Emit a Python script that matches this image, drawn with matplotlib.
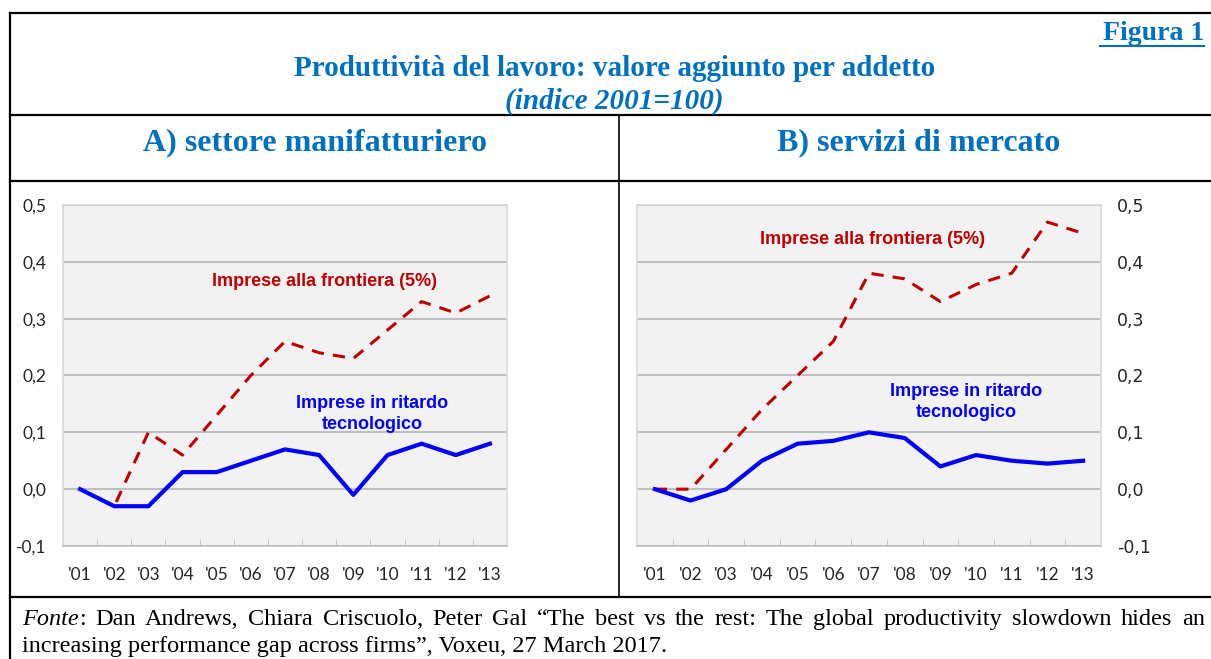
import matplotlib
matplotlib.use("Agg")
import matplotlib.pyplot as plt
from matplotlib.lines import Line2D
from matplotlib.ticker import FuncFormatter
import numpy as np

# dati (indice 2001=100, variazione)
anni = ["'01", "'02", "'03", "'04", "'05", "'06", "'07", "'08", "'09", "'10", "'11", "'12", "'13"]

manif_frontiera = [0.0, -0.03, 0.10, 0.06, 0.13, 0.20, 0.26, 0.24, 0.23, 0.28, 0.33, 0.31, 0.34]
manif_ritardo = [0.0, -0.03, -0.03, 0.03, 0.03, 0.05, 0.07, 0.06, -0.01, 0.06, 0.08, 0.06, 0.08]

serv_frontiera = [0.0, 0.0, 0.07, 0.14, 0.20, 0.26, 0.38, 0.37, 0.33, 0.36, 0.38, 0.47, 0.45]
serv_ritardo = [0.0, -0.02, 0.0, 0.05, 0.08, 0.085, 0.10, 0.09, 0.04, 0.06, 0.05, 0.045, 0.05]

yticks = [-0.1, 0.0, 0.1, 0.2, 0.3, 0.4, 0.5]

fonte_riga1 = ("Dan Andrews, Chiara Criscuolo, Peter Gal \u201cThe best vs the rest: "
               "The global productivity slowdown hides an")
fonte_riga2 = "increasing performance gap across firms\u201d, Voxeu, 27 March 2017."

W, H = 1211, 659
BLU_TITOLO = "#0070C0"
ROSSO = "#C00000"
BLU = "#0000FF"

fig = plt.figure(figsize=(W / 100, H / 100), dpi=100)
renderer = fig.canvas.get_renderer()


def px(x0, y0, x1, y1):
    # rettangolo in pixel (dall'alto) -> coordinate figura
    return [x0 / W, 1 - y1 / H, (x1 - x0) / W, (y1 - y0) / H]


def linea(x0, y0, x1, y1, lw=1.6, color="black"):
    fig.add_artist(Line2D([x0 / W, x1 / W], [1 - y0 / H, 1 - y1 / H],
                          color=color, lw=lw, transform=fig.transFigure))


# cornici della tabella
linea(10, 13, W, 13)
linea(10, 13, 10, H)
linea(10, 115, W, 115)
linea(10, 181, W, 181)
linea(10, 597, W, 597)
linea(619, 115, 619, 597, lw=1.2)

# titoli
serif = ["Liberation Serif", "DejaVu Serif"]
fig.text(1204 / W, 1 - 34 / H, "Figura 1", ha="right", va="center", family=serif,
         fontsize=20, fontweight="bold", color=BLU_TITOLO)
linea(1100, 46, 1204, 46, lw=1.5, color=BLU_TITOLO)
fig.text(615 / W, 1 - 69 / H, "Produttività del lavoro: valore aggiunto per addetto",
         ha="center", va="center", family=serif, fontsize=21, fontweight="bold", color=BLU_TITOLO)
fig.text(614 / W, 1 - 101 / H, "(indice 2001=100)", ha="center", va="center", family=serif,
         fontsize=21, fontweight="bold", style="italic", color=BLU_TITOLO)
fig.text(315 / W, 1 - 143 / H, "A) settore manifatturiero", ha="center", va="center",
         family=serif, fontsize=23, fontweight="bold", color=BLU_TITOLO)
fig.text(919 / W, 1 - 143 / H, "B) servizi di mercato", ha="center", va="center",
         family=serif, fontsize=23, fontweight="bold", color=BLU_TITOLO)

# fonte: prima riga giustificata tra x=22 e x=1205
fs_fonte = 17.5
y1 = 1 - 625 / H
y2 = 1 - 652 / H
t = fig.text(22 / W, y1, "Fonte", ha="left", va="baseline", family=serif,
             fontsize=fs_fonte, style="italic")
x_cur = t.get_window_extent(renderer).x1
t = fig.text(x_cur / W, y1, ":", ha="left", va="baseline", family=serif, fontsize=fs_fonte)
x_cur = t.get_window_extent(renderer).x1

testi = [fig.text(0, y1, p, ha="left", va="baseline", family=serif, fontsize=fs_fonte)
         for p in fonte_riga1.split(" ")]
larg = [tt.get_window_extent(renderer).width for tt in testi]
spazio = (1205 - x_cur - sum(larg)) / len(larg)
for tt, w in zip(testi, larg):
    x_cur += spazio
    tt.set_x(x_cur / W)
    x_cur += w
fig.text(22 / W, y2, fonte_riga2, ha="left", va="baseline", family=serif, fontsize=fs_fonte)

fmt = FuncFormatter(lambda v, p: f"{v:.1f}".replace(".", ","))
x = np.arange(len(anni))


def pannello(rect, frontiera, ritardo, destra):
    ax = fig.add_axes(rect)
    ax.set_facecolor("#F2F2F2")
    ax.set_xlim(-0.5, len(anni) - 0.5)
    ax.set_ylim(-0.1, 0.5)
    ax.set_yticks(yticks)
    ax.yaxis.set_major_formatter(fmt)
    ax.grid(axis="y", color="#BFBFBF", lw=1.5)
    ax.set_axisbelow(True)
    for s in ax.spines.values():
        s.set_color("#D9D9D9")
        s.set_linewidth(1.2)
    ax.spines["bottom"].set_color("#BFBFBF")
    ax.set_xticks(x)
    ax.set_xticklabels(anni)
    ax.set_xticks(np.arange(0.5, len(anni) - 1, 1), minor=True)
    ax.tick_params(axis="x", which="major", length=0, pad=15, labelsize=12.5, labelcolor="#262626")
    ax.tick_params(axis="x", which="minor", length=5, direction="in", color="#BFBFBF")
    ax.tick_params(axis="y", length=0, labelsize=12.5, labelcolor="#262626", pad=12)
    for lab in ax.get_xticklabels() + ax.get_yticklabels():
        lab.set_family(["Lato", "DejaVu Sans"])
    if destra:
        ax.yaxis.tick_right()
        ax.tick_params(axis="y", length=0, pad=11.5)
    ax.plot(x, frontiera, color=ROSSO, lw=2.2, ls=(0, (4, 3)), zorder=3)
    ax.plot(x, ritardo, color=BLU, lw=3, zorder=4)
    return ax


axA = pannello(px(63, 205, 507, 546), manif_frontiera, manif_ritardo, False)
axB = pannello(px(637, 205, 1101, 546), serv_frontiera, serv_ritardo, True)

sans = ["Liberation Sans", "DejaVu Sans"]
kw = dict(ha="center", va="center", family=sans, fontsize=13, fontweight="bold")
fig.text(325 / W, 1 - 282 / H, "Imprese alla frontiera (5%)", color=ROSSO, **kw)
fig.text(372 / W, 1 - 414 / H, "Imprese in ritardo\ntecnologico", color=BLU, linespacing=1.3, **kw)
fig.text(872 / W, 1 - 239 / H, "Imprese alla frontiera (5%)", color=ROSSO, **kw)
fig.text(966 / W, 1 - 402 / H, "Imprese in ritardo\ntecnologico", color=BLU, linespacing=1.3, **kw)

fig.savefig("out.png", dpi=100)
